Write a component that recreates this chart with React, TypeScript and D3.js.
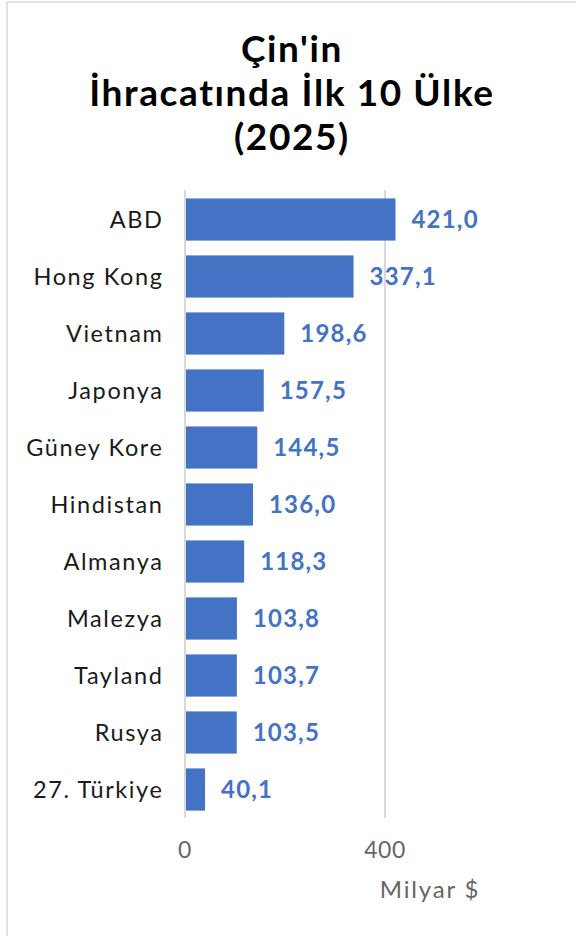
import React, { useEffect } from "react";
import * as d3 from "d3";

// Çin'in ihracatında ilk 10 ülke, milyar $
const countries = [
  "ABD",
  "Hong Kong",
  "Vietnam",
  "Japonya",
  "Güney Kore",
  "Hindistan",
  "Almanya",
  "Malezya",
  "Tayland",
  "Rusya",
  "27. Türkiye",
];
const exportsBn = [421.0, 337.1, 198.6, 157.5, 144.5, 136.0, 118.3, 103.8, 103.7, 103.5, 40.1];
const xTicks = [0, 400];
const titleLines = ["Çin'in", "İhracatında İlk 10 Ülke", "(2025)"];
const unitLabel = "Milyar $";

const FONT = "Lato, 'Open Sans', sans-serif";
const BLUE = "#4472C4";

export default function App() {
  useEffect(() => {
    document.body.style.margin = "0";
  }, []);

  const width = 576;
  const height = 936;

  const x = d3.scaleLinear().domain([0, 400]).range([185, 385]);
  const y = d3
    .scaleBand<string>()
    .domain(countries)
    .range([191, 818])
    .paddingInner(0.26)
    .paddingOuter(0.13);

  const fmt = (v: number) => d3.format(".1f")(v).replace(".", ",");

  return (
    <svg width={width} height={height} style={{ display: "block", background: "#fff" }}>
      {/* chart frame */}
      <rect x={7} y={2} width={width + 10} height={height + 10} fill="none" stroke="#d9d9d9" strokeWidth={1.5} />

      {/* title */}
      <g fontFamily={FONT} fontWeight={700} fontSize={37} fill="#000" textAnchor="middle" letterSpacing={1.6}>
        {titleLines.map((t, i) => (
          <text key={t} x={292} y={62 + i * 44}>
            {t}
          </text>
        ))}
      </g>

      {/* gridlines */}
      {xTicks.map((t) => (
        <line key={t} x1={x(t)} x2={x(t)} y1={190} y2={818} stroke="#d9d9d9" strokeWidth={2} />
      ))}

      {/* bars */}
      {countries.map((c, i) => (
        <rect key={c} x={x(0) + 1} y={y(c)} width={x(exportsBn[i]) - x(0) - 1} height={y.bandwidth()} fill={BLUE} />
      ))}

      {/* value labels */}
      <g fontFamily={FONT} fontWeight={700} fontSize={24} fill={BLUE} letterSpacing={1.2}>
        {countries.map((c, i) => (
          <text key={c} x={x(exportsBn[i]) + 16} y={(y(c) ?? 0) + y.bandwidth() / 2} dy="0.36em">
            {fmt(exportsBn[i])}
          </text>
        ))}
      </g>

      {/* category labels */}
      <g fontFamily={FONT} fontSize={23.5} fill="#1a1a1a" textAnchor="end" letterSpacing={1.6}>
        {countries.map((c) => (
          <text key={c} x={163.5} y={(y(c) ?? 0) + y.bandwidth() / 2} dy="0.36em">
            {c}
          </text>
        ))}
      </g>

      {/* x tick labels */}
      <g fontFamily={FONT} fontSize={23} fill="#666" textAnchor="middle" letterSpacing={0.5}>
        {xTicks.map((t) => (
          <text key={t} x={x(t)} y={858}>
            {t}
          </text>
        ))}
      </g>

      <text x={430} y={898} fontFamily={FONT} fontSize={24} fill="#666" textAnchor="middle" letterSpacing={1.8}>
        {unitLabel}
      </text>
    </svg>
  );
}
